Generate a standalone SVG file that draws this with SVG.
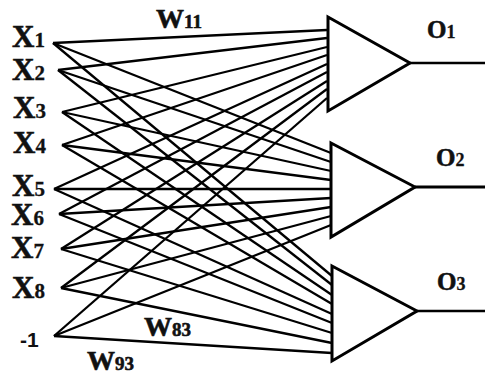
<svg xmlns="http://www.w3.org/2000/svg" width="485" height="376" viewBox="0 0 485 376">
<style>
.bg{fill:#fff}
.lbl{font-family:"Liberation Serif","Times New Roman",serif;font-weight:bold;fill:#111;stroke:#111;stroke-width:0.6}
.big{font-size:31px}
.sub{font-size:21px;stroke-width:0.3}
.w{font-size:28px}
.wsub{font-size:19px}
.o{font-size:25px}
.osub{font-size:18px;stroke-width:0.3}
.bias{font-family:"Liberation Sans",Arial,sans-serif;font-weight:bold;font-size:21px;fill:#111}
.tri{fill:#fff;stroke:#000;stroke-width:3;stroke-linejoin:miter}
.out{stroke:#000;stroke-width:2;fill:none}
.conn line{stroke:#000;stroke-width:2.3}
</style>
<rect class="bg" width="485" height="376"/>
<g id="connectors" class="conn">
<line x1="53" y1="43" x2="327" y2="30"/>
<line x1="58" y1="70" x2="327" y2="38"/>
<line x1="62" y1="112" x2="327" y2="47"/>
<line x1="62" y1="145" x2="327" y2="55"/>
<line x1="54" y1="189" x2="327" y2="64"/>
<line x1="59" y1="214" x2="327" y2="72"/>
<line x1="61" y1="249" x2="327" y2="81"/>
<line x1="61" y1="288" x2="327" y2="89"/>
<line x1="54" y1="336" x2="327" y2="98"/>
<line x1="53" y1="43" x2="331" y2="153"/>
<line x1="58" y1="70" x2="331" y2="162"/>
<line x1="62" y1="112" x2="331" y2="171"/>
<line x1="62" y1="145" x2="331" y2="180"/>
<line x1="54" y1="189" x2="331" y2="189"/>
<line x1="59" y1="214" x2="331" y2="198"/>
<line x1="61" y1="249" x2="331" y2="207"/>
<line x1="61" y1="288" x2="331" y2="216"/>
<line x1="54" y1="336" x2="331" y2="225"/>
<line x1="53" y1="43" x2="332" y2="276"/>
<line x1="58" y1="70" x2="332" y2="285"/>
<line x1="62" y1="112" x2="332" y2="295"/>
<line x1="62" y1="145" x2="332" y2="304"/>
<line x1="54" y1="189" x2="332" y2="314"/>
<line x1="59" y1="214" x2="332" y2="323"/>
<line x1="61" y1="249" x2="332" y2="333"/>
<line x1="61" y1="288" x2="332" y2="343"/>
<line x1="54" y1="336" x2="332" y2="353"/>
<line class="out" x1="410" y1="63" x2="485" y2="63"/>
<line class="out" x1="415" y1="187" x2="485" y2="187" style="stroke-width:3"/>
<line class="out" x1="417" y1="311" x2="485" y2="311"/>
</g>
<g id="x1"><text class="lbl big" x="12" y="47">X<tspan class="sub">1</tspan></text></g>
<g id="x2"><text class="lbl big" x="12" y="80">X<tspan class="sub">2</tspan></text></g>
<g id="x3"><text class="lbl big" x="13" y="118">X<tspan class="sub">3</tspan></text></g>
<g id="x4"><text class="lbl big" x="13" y="153">X<tspan class="sub">4</tspan></text></g>
<g id="x5"><text class="lbl big" x="12" y="196">X<tspan class="sub">5</tspan></text></g>
<g id="x6"><text class="lbl big" x="11" y="225">X<tspan class="sub">6</tspan></text></g>
<g id="x7"><text class="lbl big" x="11" y="258">X<tspan class="sub">7</tspan></text></g>
<g id="x8"><text class="lbl big" x="12" y="298">X<tspan class="sub">8</tspan></text></g>
<g id="bias"><text class="bias" x="20" y="347">-1</text></g>
<g id="o1node"><polygon class="tri" points="328,17 410,63 328,111"/><text class="lbl o" x="427" y="38">O<tspan class="osub">1</tspan></text></g>
<g id="o2node"><polygon class="tri" points="331,143 415,187 331,237"/><text class="lbl o" x="436" y="166">O<tspan class="osub">2</tspan></text></g>
<g id="o3node"><polygon class="tri" points="332,266 417,311 332,361"/><text class="lbl o" x="437" y="290">O<tspan class="osub">3</tspan></text></g>
<g id="labels">
<text class="lbl w" x="156" y="28">W<tspan class="wsub">11</tspan></text>
<text class="lbl w" x="144" y="336">W<tspan class="wsub">83</tspan></text>
<text class="lbl w" x="87" y="370">W<tspan class="wsub">93</tspan></text>
</g>
</svg>
